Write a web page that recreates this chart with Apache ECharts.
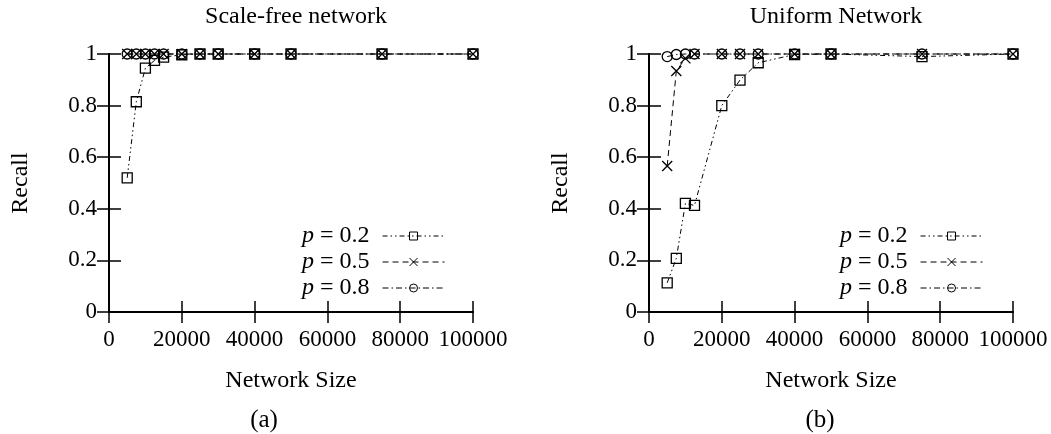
<!DOCTYPE html>
<html>
<head>
<meta charset="utf-8">
<script src="https://cdn.jsdelivr.net/npm/echarts@6/dist/echarts.min.js"></script>
<style>
  html, body { margin: 0; padding: 0; background: #fff; }
  #chart { width: 1051px; height: 434px; }
</style>
</head>
<body>
<div id="chart"></div>
<script>
// network sizes (x values)
let sizesSF = [5000, 7500, 10000, 12500, 15000, 20000, 25000, 30000, 40000, 50000, 75000, 100000];
let sizesUN = [5000, 7500, 10000, 12500, 20000, 25000, 30000, 40000, 50000, 75000, 100000];

// scale-free network recall
let sfP02 = [0.52, 0.815, 0.945, 0.975, 0.988, 0.997, 1, 1, 1, 1, 1, 1];
let sfP05 = [1, 1, 1, 1, 1, 1, 1, 1, 1, 1, 1, 1];
let sfP08 = [1, 1, 1, 1, 1, 1, 1, 1, 1, 1, 1, 1];

// uniform network recall
let unP02 = [0.113, 0.208, 0.421, 0.413, 0.8, 0.899, 0.966, 0.998, 1, 0.99, 1];
let unP05 = [0.566, 0.934, 0.983, 1, 1, 1, 1, 1, 1, 1, 1];
let unP08 = [0.99, 0.998, 1, 1, 1, 1, 1, 1, 1, 1, 1];

let seriesNames = ['p = 0.2', 'p = 0.5', 'p = 0.8'];

let font = "'Liberation Serif', 'DejaVu Serif', serif";

let styles = [
    { symbol: 'rect', dash: [5, 3, 1.5, 3, 1.5, 3] },
    { symbol: 'path://M0,0L10,10M0,10L10,0', dash: [6, 4] },
    { symbol: 'circle', dash: [6, 3, 1.5, 3] }
];

function pairs(xs, ys) {
    return xs.map((x, i) => [x, ys[i]]);
}

function makeSeries(idx, xs, ys, axis) {
    return {
        name: seriesNames[idx],
        type: 'line',
        xAxisIndex: axis,
        yAxisIndex: axis,
        data: pairs(xs, ys),
        symbol: styles[idx].symbol,
        symbolSize: 10,
        symbolKeepAspect: true,
        clip: false,
        z: 2 + idx,
        lineStyle: { color: '#000', width: 1, type: styles[idx].dash },
        itemStyle: { color: 'rgba(0,0,0,0)', borderColor: '#000', borderWidth: 1.3 },
        emphasis: { disabled: true }
    };
}

function xAxisPair(grid) {
    let base = {
        type: 'value', gridIndex: grid, min: 0, max: 100000, interval: 20000,
        splitLine: { show: false },
        axisLine: { show: true, lineStyle: { color: '#000', width: 2 } },
        axisTick: { show: true, inside: true, length: 11, lineStyle: { color: '#000', width: 1.5 } }
    };
    return [
        Object.assign({}, base, {
            position: 'bottom',
            name: 'Network Size', nameLocation: 'middle', nameGap: 57,
            nameTextStyle: { fontFamily: font, fontSize: 24, color: '#000' },
            axisLabel: { fontFamily: font, fontSize: 23, color: '#000', margin: 16,
                formatter: v => String(v) }
        }),
        Object.assign({}, base, { position: 'top', axisLabel: { show: false } })
    ];
}

function yAxisPair(grid) {
    let base = {
        type: 'value', gridIndex: grid, min: 0, max: 1, interval: 0.2,
        splitLine: { show: false },
        axisLine: { show: true, lineStyle: { color: '#000', width: 2 } },
        axisTick: { show: true, inside: true, length: 12, lineStyle: { color: '#000', width: 1.5 } }
    };
    return [
        Object.assign({}, base, {
            position: 'left',
            name: 'Recall', nameLocation: 'middle', nameGap: 76, nameRotate: 90,
            nameTextStyle: { fontFamily: font, fontSize: 24, color: '#000' },
            axisLabel: { fontFamily: font, fontSize: 23, color: '#000', margin: 12 }
        }),
        Object.assign({}, base, { position: 'right', axisLabel: { show: false } })
    ];
}

function makeLegend(left) {
    return {
        left: left, top: 219,
        orient: 'vertical', align: 'right',
        itemWidth: 62, itemHeight: 10, itemGap: 2,
        selectedMode: false,
        data: seriesNames,
        itemStyle: { borderWidth: 1 },
        lineStyle: { width: 1, color: '#000' },
        formatter: n => '{i|p}' + n.slice(1),
        textStyle: {
            fontFamily: font, fontSize: 24, color: '#000', padding: [0, 8, 0, 0],
            rich: { i: { fontFamily: font, fontSize: 24, fontStyle: 'italic', color: '#000' } }
        }
    };
}

let myChart = echarts.init(document.getElementById('chart'), null, { renderer: 'canvas' });
let option = {
    animation: false,
    backgroundColor: '#fff',
    title: [
        { text: 'Scale-free network', left: 291, top: 0, textAlign: 'center',
          textStyle: { fontFamily: font, fontSize: 24, fontWeight: 'normal', color: '#000' } },
        { text: 'Uniform Network', left: 831, top: 0, textAlign: 'center',
          textStyle: { fontFamily: font, fontSize: 24, fontWeight: 'normal', color: '#000' } },
        { text: '(a)', left: 259, top: 403, textAlign: 'center',
          textStyle: { fontFamily: font, fontSize: 25, fontWeight: 'normal', color: '#000' } },
        { text: '(b)', left: 815, top: 403, textAlign: 'center',
          textStyle: { fontFamily: font, fontSize: 25, fontWeight: 'normal', color: '#000' } }
    ],
    grid: [
        { left: 109, right: 578, top: 54, bottom: 122 },
        { left: 649, right: 38, top: 54, bottom: 122 }
    ],
    legend: [makeLegend(297), makeLegend(835)],
    xAxis: xAxisPair(0).concat(xAxisPair(1)),
    yAxis: yAxisPair(0).concat(yAxisPair(1)),
    series: [
        makeSeries(0, sizesSF, sfP02, 0),
        makeSeries(1, sizesSF, sfP05, 0),
        makeSeries(2, sizesSF, sfP08, 0),
        makeSeries(0, sizesUN, unP02, 2),
        makeSeries(1, sizesUN, unP05, 2),
        makeSeries(2, sizesUN, unP08, 2)
    ]
};
myChart.setOption(option);
</script>
</body>
</html>
